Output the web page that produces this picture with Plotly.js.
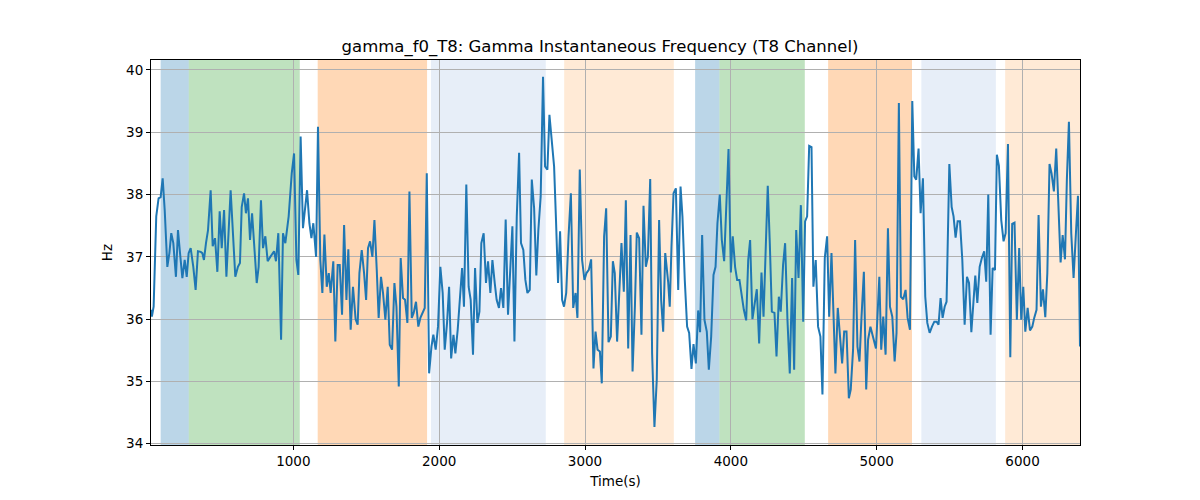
<!DOCTYPE html>
<html>
<head>
<meta charset="utf-8">
<script src="https://cdn.plot.ly/plotly-3.0.1.min.js"></script>
<style>
  body { margin: 0; background: #fff; }
  #chart { width: 1200px; height: 500px; }
</style>
</head>
<body>
<div id="chart"></div>
<script>
// time (s) and gamma f0 (Hz)
var timeSec = [
  24, 30, 42, 60, 76, 90, 104, 118, 136, 150, 163, 177, 195, 209, 223, 239, 255, 269, 282, 296,
  314, 330, 346, 365, 376, 387, 401, 415, 433, 447, 463, 479, 495, 509, 525, 541, 570, 602, 620, 634,
  646, 662, 675, 689, 703, 717, 749, 762, 778, 792, 808, 824, 842, 868, 881, 897, 916, 929, 945, 968,
  989, 1005, 1021, 1034, 1050, 1066, 1094, 1110, 1124, 1137, 1156, 1169, 1185, 1199, 1213, 1229, 1243, 1256, 1274, 1288,
  1304, 1318, 1334, 1348, 1364, 1377, 1393, 1409, 1427, 1441, 1453, 1469, 1485, 1499, 1512, 1526, 1542, 1556, 1572, 1585,
  1601, 1615, 1631, 1647, 1661, 1677, 1693, 1707, 1723, 1736, 1752, 1766, 1782, 1796, 1812, 1825, 1841, 1857, 1871, 1887,
  1901, 1915, 1931, 1947, 1960, 1976, 1992, 2008, 2024, 2038, 2054, 2068, 2082, 2098, 2111, 2127, 2143, 2157, 2170, 2186,
  2202, 2216, 2232, 2246, 2262, 2276, 2289, 2305, 2321, 2335, 2351, 2365, 2381, 2394, 2410, 2424, 2440, 2456, 2472, 2486,
  2502, 2516, 2532, 2548, 2561, 2577, 2591, 2605, 2621, 2635, 2651, 2666, 2680, 2696, 2712, 2726, 2742, 2756, 2772, 2788,
  2801, 2815, 2829, 2843, 2856, 2871, 2887, 2903, 2919, 2935, 2948, 2964, 2980, 2996, 3010, 3026, 3042, 3058, 3072, 3086,
  3102, 3115, 3131, 3145, 3161, 3177, 3191, 3204, 3220, 3236, 3250, 3266, 3280, 3296, 3312, 3326, 3342, 3355, 3371, 3387,
  3401, 3417, 3431, 3447, 3460, 3476, 3492, 3508, 3522, 3536, 3550, 3570, 3581, 3593, 3607, 3623, 3639, 3655, 3668, 3684,
  3700, 3714, 3730, 3744, 3760, 3776, 3789, 3803, 3819, 3835, 3849, 3865, 3881, 3895, 3908, 3924, 3938, 3954, 3970, 3984,
  4000, 4013, 4029, 4043, 4059, 4073, 4089, 4105, 4119, 4132, 4148, 4164, 4178, 4194, 4210, 4224, 4240, 4253, 4267, 4281,
  4299, 4313, 4329, 4342, 4358, 4372, 4388, 4404, 4420, 4434, 4448, 4464, 4480, 4496, 4509, 4523, 4537, 4553, 4566, 4582,
  4598, 4614, 4628, 4644, 4660, 4674, 4690, 4704, 4717, 4733, 4749, 4763, 4777, 4793, 4809, 4822, 4838, 4852, 4868, 4882,
  4896, 4912, 4928, 4941, 4957, 4973, 4995, 5018, 5031, 5045, 5061, 5077, 5091, 5107, 5123, 5136, 5152, 5166, 5182, 5198,
  5212, 5228, 5244, 5258, 5271, 5287, 5301, 5317, 5333, 5347, 5363, 5379, 5395, 5411, 5424, 5438, 5452, 5466, 5479, 5498,
  5514, 5527, 5541, 5555, 5571, 5587, 5603, 5619, 5633, 5649, 5662, 5676, 5690, 5706, 5721, 5737, 5751, 5765, 5781, 5795,
  5811, 5824, 5838, 5854, 5870, 5884, 5900, 5916, 5929, 5945, 5961, 5977, 5991, 6005, 6019, 6035, 6051, 6067, 6080, 6096,
  6110, 6126, 6140, 6156, 6170, 6185, 6199, 6215, 6231, 6245, 6261, 6275, 6291, 6304, 6318, 6334, 6350, 6366, 6380, 6394
];
var gammaHz = [
  36.15, 36.04, 36.2, 37.65, 37.94, 37.96, 38.26, 37.75, 36.84, 37.06, 37.38, 37.22, 36.68, 37.43, 37.06, 36.66, 36.95, 36.68, 37.06, 37.14,
  36.84, 36.47, 37.09, 37.08, 37.06, 36.95, 37.22, 37.43, 38.07, 37.17, 37.3, 36.76, 37.73, 37.14, 37.75, 36.68, 38.07, 36.68, 36.84, 36.9,
  37.8, 38.02, 37.7, 37.94, 37.27, 37.7, 36.58, 36.84, 37.91, 37.14, 37.33, 36.93, 37.0, 37.09, 36.93, 37.38, 35.67, 37.38, 37.22, 37.65,
  38.34, 38.66, 36.95, 36.71, 38.93, 37.46, 38.07, 37.54, 37.3, 37.54, 37.0, 39.09, 36.95, 36.42, 37.36, 36.52, 36.74, 36.42, 36.93, 35.64,
  36.87, 36.87, 36.07, 37.51, 36.31, 37.12, 35.83, 36.52, 36.0, 35.91, 36.74, 37.11, 36.74, 36.31, 37.14, 37.25, 37.0, 37.59, 36.79, 36.02,
  36.68, 36.42, 35.99, 36.52, 35.59, 35.51, 36.58, 36.2, 34.92, 36.98, 36.34, 36.31, 35.94, 38.05, 36.02, 36.1, 36.28, 35.88, 36.02, 36.1,
  36.18, 38.34, 35.13, 35.56, 35.75, 35.51, 35.88, 36.84, 36.42, 35.51, 35.94, 36.52, 35.37, 35.75, 35.45, 35.83, 36.42, 36.82, 36.2, 38.16,
  36.52, 36.31, 35.43, 36.82, 35.94, 36.12, 37.22, 37.38, 36.58, 36.93, 36.42, 36.95, 36.58, 36.31, 36.18, 36.5, 36.18, 37.6, 36.07, 36.74,
  37.49, 35.64, 37.65, 38.67, 37.22, 37.11, 36.63, 36.42, 36.47, 38.24, 37.78, 36.7, 37.43, 37.97, 39.89, 38.45, 38.4, 39.28, 38.88, 38.45,
  37.59, 36.58, 37.41, 36.31, 36.2, 36.42, 37.33, 38.02, 36.18, 36.42, 36.02, 38.4, 36.95, 36.63, 36.74, 36.79, 36.96, 35.21, 35.8, 35.51,
  35.48, 34.97, 37.33, 37.78, 35.63, 35.72, 36.93, 36.74, 35.64, 36.63, 37.22, 36.44, 37.91, 35.53, 37.35, 35.16, 36.2, 37.39, 37.3, 35.75,
  37.82, 36.84, 37.0, 38.25, 35.45, 34.27, 35.03, 37.59, 36.31, 35.8, 37.06, 36.6, 36.2, 37.17, 38.02, 38.1, 36.47, 38.13, 37.65, 36.63,
  35.88, 35.78, 35.2, 35.6, 35.29, 36.14, 35.79, 37.35, 35.99, 35.8, 35.19, 35.72, 36.71, 36.84, 37.54, 38.0, 37.27, 36.93, 37.97, 38.73,
  36.75, 37.33, 36.84, 36.63, 36.63, 36.39, 36.15, 35.98, 36.95, 37.27, 36.0, 36.26, 36.48, 35.61, 36.75, 36.04, 37.17, 38.14, 37.22, 36.12,
  36.1, 35.4, 36.36, 36.12, 36.87, 37.22, 35.99, 35.13, 36.66, 35.19, 37.43, 36.66, 37.83, 35.96, 37.57, 37.65, 38.78, 38.76, 36.52, 36.95,
  35.88, 35.72, 34.79, 36.98, 37.33, 36.04, 37.06, 35.99, 35.13, 36.18, 35.61, 35.29, 35.8, 35.8, 34.73, 34.87, 35.51, 37.27, 35.56, 35.32,
  36.04, 36.76, 34.87, 35.67, 35.88, 35.75, 35.53, 36.68, 35.51, 36.04, 35.43, 37.46, 36.2, 36.04, 35.32, 35.78, 39.47, 36.36, 36.32, 36.47,
  36.02, 35.83, 39.5, 38.29, 38.24, 38.74, 37.7, 38.26, 36.36, 35.94, 35.78, 35.88, 35.96, 35.96, 35.91, 36.34, 36.02, 36.2, 36.28, 38.49,
  37.8, 37.65, 37.31, 37.57, 37.57, 36.95, 35.91, 36.68, 36.58, 35.79, 36.31, 36.7, 36.26, 36.84, 36.98, 37.09, 36.6, 38.0, 35.75, 36.82,
  36.79, 38.64, 38.46, 37.59, 37.25, 37.38, 38.81, 35.39, 37.53, 37.55, 35.99, 37.14, 35.99, 36.52, 35.8, 36.18, 35.82, 35.88, 36.02, 36.15,
  37.67, 36.2, 36.48, 36.03, 36.74, 38.49, 38.34, 38.05, 38.74, 37.91, 36.91, 37.35, 36.96, 38.24, 39.17, 37.38, 36.66, 37.38, 37.98, 35.56
];

// shaded segments
var spanStart = [90, 283, 1167, 1944, 2857, 3755, 3922, 4667, 5306, 5881];
var spanEnd   = [283, 1044, 1917, 2731, 3609, 3922, 4507, 5242, 5817, 6394];
var spanColor = [
  'rgba(31,119,180,0.3)', 'rgba(44,160,44,0.3)', 'rgba(255,127,14,0.3)', 'rgba(174,199,232,0.3)', 'rgba(255,187,120,0.3)',
  'rgba(31,119,180,0.3)', 'rgba(44,160,44,0.3)', 'rgba(255,127,14,0.3)', 'rgba(174,199,232,0.3)', 'rgba(255,187,120,0.3)'
];

var shapes = [];
for (let i = 0; i < spanStart.length; i++) {
  shapes.push({
    type: 'rect', xref: 'x', yref: 'paper',
    x0: spanStart[i], x1: spanEnd[i], y0: 0, y1: 1,
    fillcolor: spanColor[i], line: {width: 0}, layer: 'below'
  });
}

var trace = {
  x: timeSec,
  y: gammaHz,
  type: 'scatter',
  mode: 'lines',
  line: {color: '#1f77b4', width: 2},
  hoverinfo: 'x+y'
};

var axisStyle = {
  showline: true, mirror: true, linecolor: '#000', linewidth: 1,
  ticks: 'outside', ticklen: 4, tickcolor: '#000', tickwidth: 1,
  showgrid: true, gridcolor: '#b0b0b0', gridwidth: 1,
  zeroline: false,
  tickfont: {family: 'DejaVu Sans', size: 13.5, color: '#000'}
};

var layout = {
  width: 1200, height: 500,
  margin: {l: 151, r: 120, t: 60, b: 55},
  paper_bgcolor: '#fff', plot_bgcolor: 'rgba(0,0,0,0)',
  showlegend: false,
  title: {
    text: 'gamma_f0_T8: Gamma Instantaneous Frequency (T8 Channel)',
    font: {family: 'DejaVu Sans', size: 16.5, color: '#000'},
    x: 0.5, xanchor: 'center', y: 0.908, yanchor: 'middle'
  },
  xaxis: Object.assign({}, axisStyle, {
    range: [24, 6394],
    tickvals: [1000, 2000, 3000, 4000, 5000, 6000],
    title: {text: 'Time(s)', font: {family: 'DejaVu Sans', size: 13.5, color: '#000'}, standoff: 8}
  }),
  yaxis: Object.assign({}, axisStyle, {
    range: [33.98, 40.16],
    tickvals: [34, 35, 36, 37, 38, 39, 40],
    title: {text: 'Hz', font: {family: 'DejaVu Sans', size: 13.5, color: '#000'}, standoff: 10}
  }),
  shapes: shapes
};

Plotly.newPlot('chart', [trace], layout, {displayModeBar: false, staticPlot: true});
</script>
</body>
</html>
